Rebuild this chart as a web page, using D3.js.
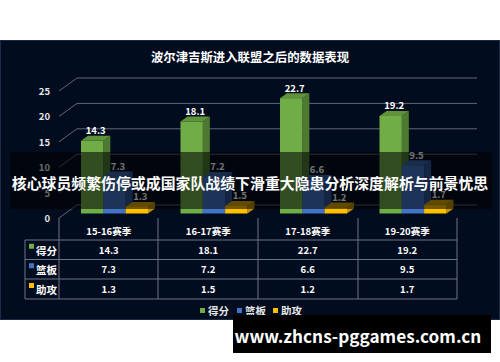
<!DOCTYPE html>
<html>
<head>
<meta charset="utf-8">
<script src="https://cdn.jsdelivr.net/npm/d3@7"></script>
<style>
  html, body { margin: 0; padding: 0; background: #fff; }
  svg { display: block; }
  text { font-family: "Noto Sans CJK SC", "Noto Sans", sans-serif; font-weight: bold; }
</style>
</head>
<body>
<svg id="chart" width="500" height="362"></svg>
<script>
// chart data
const seasons = ['15-16赛季', '16-17赛季', '17-18赛季', '19-20赛季'];
const seriesNames = ['得分', '篮板', '助攻'];
const points = [14.3, 18.1, 22.7, 19.2];
const rebounds = [7.3, 7.2, 6.6, 9.5];
const assists = [1.3, 1.5, 1.2, 1.7];
const yTicks = [0, 5, 10, 15, 20, 25];

const titleText = '波尔津吉斯进入联盟之后的数据表现';
const overlayText = '核心球员频繁伤停或成国家队战绩下滑重大隐患分析深度解析与前景忧思';
const watermarkText = 'www.zhcns-pggames.com.cn';

const seriesValues = [points, rebounds, assists];
const colors = {
    front: ['#70ad47', '#4472c4', '#ffc000'],
    side: ['#4d7a30', '#2f5597', '#bf9000'],
    top: ['#5e9339', '#3a62a8', '#d9a300']
};

const svg = d3.select('#chart');

// panel
svg.append('rect')
    .attr('x', 0.5).attr('y', 40.5)
    .attr('width', 499).attr('height', 279)
    .attr('fill', '#020c1f')
    .attr('stroke', '#1b2a45');

svg.append('text')
    .attr('x', 250).attr('y', 57)
    .attr('text-anchor', 'middle').attr('dominant-baseline', 'central')
    .attr('fill', '#ffffff').attr('font-size', 12.4)
    .text(titleText);

// scales (front plane of the 3D box)
const x0 = d3.scaleBand().domain(seasons).range([59, 457]);
const x1 = d3.scaleBand().domain(seriesNames).range([0, 67]);
const y = d3.scaleLinear().domain([0, 25]).range([218, 91]);

const backDx = 18, backDy = 13;   // wall offset
const barDx = 7, barDy = 5;       // bar depth
const barShiftX = 22, barShiftY = 4.5;

// gridlines
const grid = svg.append('g');
yTicks.forEach(t => {
    const yy = y(t);
    grid.append('path')
        .attr('d', `M59,${yy}L${59 + backDx},${yy - backDy}L477,${yy - backDy}`)
        .attr('fill', 'none')
        .attr('stroke', '#5f6879')
        .attr('stroke-width', 1);
});

// y axis labels
svg.append('g').selectAll('text')
    .data(yTicks)
    .enter()
    .append('text')
    .attr('x', 50)
    .attr('y', d => y(d))
    .attr('text-anchor', 'end')
    .attr('dominant-baseline', 'central')
    .attr('fill', '#e6e6e6')
    .attr('font-size', 9.5)
    .text(d => d);

// bars
const bars = [];
seasons.forEach((s, i) => {
    seriesNames.forEach((n, j) => {
        bars.push({ season: s, series: n, j: j, value: seriesValues[j][i] });
    });
});

const barG = svg.append('g');
bars.forEach(d => {
    const bx = x0(d.season) + barShiftX + x1(d.series);
    const bw = x1.bandwidth();
    const base = y(0) - barShiftY;
    const top = y(d.value) - barShiftY;

    barG.append('polygon')
        .attr('points', [[bx + bw, top], [bx + bw + barDx, top - barDy], [bx + bw + barDx, base - barDy], [bx + bw, base]].join(' '))
        .attr('fill', colors.side[d.j]);
    barG.append('polygon')
        .attr('points', [[bx, top], [bx + barDx, top - barDy], [bx + bw + barDx, top - barDy], [bx + bw, top]].join(' '))
        .attr('fill', colors.top[d.j]);
    barG.append('rect')
        .attr('x', bx).attr('y', top)
        .attr('width', bw).attr('height', base - top)
        .attr('fill', colors.front[d.j]);

    barG.append('text')
        .attr('x', bx + bw / 2 + barDx / 2)
        .attr('y', top - barDy - 1.5)
        .attr('text-anchor', 'middle')
        .attr('fill', '#ffffff')
        .attr('font-size', 9.5)
        .text(d.value.toFixed(1));
});

// data table
const table = svg.append('g');
const lineColor = '#6b7486';
const rowLines = [240, 259.5, 279, 299];

rowLines.forEach(ry => {
    table.append('line')
        .attr('x1', 25).attr('x2', 457)
        .attr('y1', ry).attr('y2', ry)
        .attr('stroke', lineColor);
});
table.append('line')
    .attr('x1', 25).attr('x2', 25)
    .attr('y1', 240).attr('y2', 299)
    .attr('stroke', lineColor);
[59, 158, 258, 358, 457].forEach(vx => {
    table.append('line')
        .attr('x1', vx).attr('x2', vx)
        .attr('y1', 218).attr('y2', 299)
        .attr('stroke', lineColor);
});

table.selectAll('text.head')
    .data(seasons)
    .enter()
    .append('text')
    .attr('class', 'head')
    .attr('x', d => x0(d) + x0.bandwidth() / 2)
    .attr('y', 231)
    .attr('text-anchor', 'middle')
    .attr('dominant-baseline', 'central')
    .attr('fill', '#ffffff')
    .attr('font-size', 9.5)
    .text(d => d);

seriesNames.forEach((n, j) => {
    const cy = (rowLines[j] + rowLines[j + 1]) / 2;
    table.append('rect')
        .attr('x', 29).attr('y', cy - 6)
        .attr('width', 5).attr('height', 5)
        .attr('fill', colors.front[j]);
    table.append('text')
        .attr('x', 36).attr('y', cy + 0.5)
        .attr('dominant-baseline', 'central')
        .attr('fill', '#ffffff')
        .attr('font-size', 10.5)
        .text(n);
    seasons.forEach((s, i) => {
        table.append('text')
            .attr('x', x0(s) + x0.bandwidth() / 2)
            .attr('y', cy)
            .attr('text-anchor', 'middle')
            .attr('dominant-baseline', 'central')
            .attr('fill', '#ffffff')
            .attr('font-size', 9.5)
            .text(seriesValues[j][i].toFixed(1));
    });
});

// legend
const legendX = [200, 237, 273];
const legend = svg.append('g');
seriesNames.forEach((n, j) => {
    legend.append('rect')
        .attr('x', legendX[j]).attr('y', 308)
        .attr('width', 5).attr('height', 5)
        .attr('fill', colors.front[j]);
    legend.append('text')
        .attr('x', legendX[j] + 8).attr('y', 310.5)
        .attr('dominant-baseline', 'central')
        .attr('fill', '#e6e6e6')
        .attr('font-size', 10.5)
        .text(n);
});

// overlay banner
svg.append('rect')
    .attr('x', 10).attr('y', 152)
    .attr('width', 482).attr('height', 57)
    .attr('fill', '#000000')
    .attr('opacity', 0.55);
svg.append('text')
    .attr('x', 250).attr('y', 182.5)
    .attr('text-anchor', 'middle')
    .attr('dominant-baseline', 'central')
    .attr('fill', '#ffffff')
    .attr('font-size', 14.9)
    .text(overlayText);

// watermark
svg.append('rect')
    .attr('x', 233).attr('y', 315)
    .attr('width', 258).attr('height', 38)
    .attr('fill', '#000000');
svg.append('text')
    .attr('x', 358).attr('y', 335)
    .attr('text-anchor', 'middle')
    .attr('dominant-baseline', 'central')
    .attr('fill', '#ffffff')
    .attr('font-family', '"Open Sans", "Noto Sans", sans-serif')
    .attr('font-size', 17.2)
    .text(watermarkText);
</script>
</body>
</html>
